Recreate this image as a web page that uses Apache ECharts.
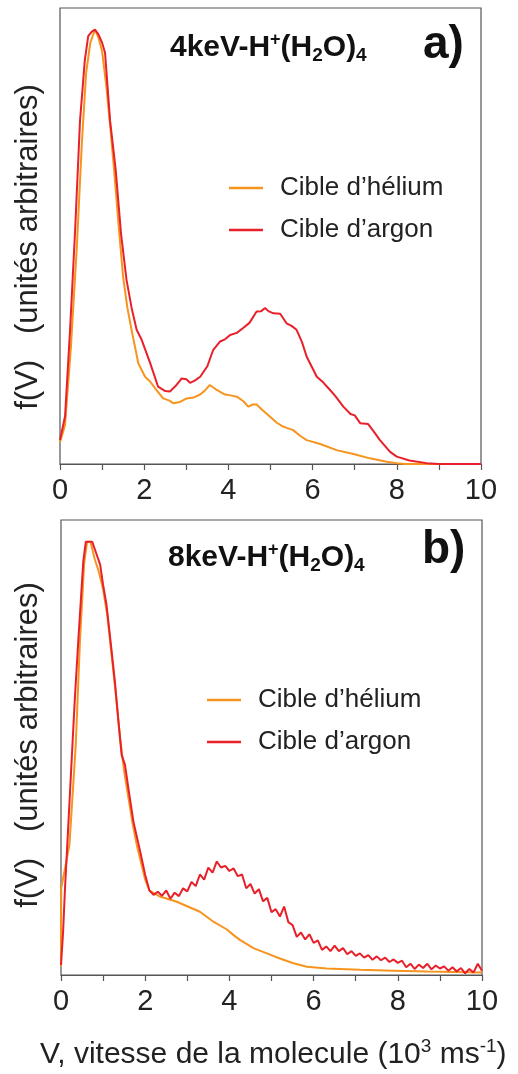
<!DOCTYPE html>
<html>
<head>
<meta charset="utf-8">
<script src="https://cdn.jsdelivr.net/npm/echarts@6/dist/echarts.min.js"></script>
<style>
  html, body { margin: 0; padding: 0; background: #fff; }
  #chart { width: 518px; height: 1074px; }
</style>
</head>
<body>
<div id="chart"></div>
<script>
// panneau a) 4 keV : vitesse (10^3 m/s) et f(V) normalisé
const vA_He = [0, 0.12, 0.26, 0.4, 0.52, 0.62, 0.72, 0.83, 0.92, 1.0, 1.1, 1.2, 1.3, 1.4, 1.5, 1.6, 1.7, 1.86, 2.02, 2.14, 2.26, 2.45, 2.6, 2.69, 2.85, 3.01, 3.17, 3.33, 3.45, 3.56, 3.7, 3.92, 4.05, 4.2, 4.35, 4.47, 4.58, 4.67, 4.8, 4.99, 5.15, 5.3, 5.54, 5.7, 5.86, 6.18, 6.57, 6.97, 7.36, 7.76, 8.0, 8.2, 10];
const fA_He = [0.05, 0.09, 0.27, 0.5, 0.74, 0.9, 0.97, 1.0, 0.98, 0.95, 0.87, 0.77, 0.66, 0.54, 0.43, 0.36, 0.309, 0.232, 0.201, 0.19, 0.174, 0.151, 0.146, 0.14, 0.143, 0.151, 0.153, 0.16, 0.17, 0.182, 0.172, 0.16, 0.158, 0.155, 0.145, 0.132, 0.137, 0.137, 0.125, 0.109, 0.095, 0.086, 0.078, 0.065, 0.055, 0.046, 0.032, 0.023, 0.013, 0.005, 0.002, 0, 0];

const vA_Ar = [0, 0.12, 0.24, 0.36, 0.475, 0.59, 0.67, 0.75, 0.83, 0.91, 1.0, 1.07, 1.19, 1.32, 1.45, 1.58, 1.7, 1.82, 1.94, 2.14, 2.33, 2.5, 2.61, 2.75, 2.89, 3.0, 3.09, 3.2, 3.33, 3.5, 3.64, 3.8, 3.92, 4.04, 4.2, 4.35, 4.5, 4.67, 4.78, 4.87, 4.95, 5.07, 5.23, 5.38, 5.5, 5.62, 5.75, 5.86, 6.1, 6.25, 6.41, 6.55, 6.73, 6.9, 7.0, 7.13, 7.32, 7.45, 7.6, 7.84, 8.0, 8.3, 8.71, 9.0, 10];
const fA_Ar = [0.055, 0.11, 0.31, 0.54, 0.79, 0.93, 0.985, 0.995, 1.0, 0.99, 0.97, 0.947, 0.79, 0.68, 0.53, 0.424, 0.36, 0.309, 0.286, 0.233, 0.178, 0.168, 0.167, 0.18, 0.197, 0.195, 0.187, 0.192, 0.201, 0.225, 0.263, 0.282, 0.287, 0.297, 0.302, 0.313, 0.325, 0.351, 0.352, 0.359, 0.352, 0.347, 0.346, 0.324, 0.318, 0.309, 0.28, 0.247, 0.201, 0.188, 0.171, 0.155, 0.132, 0.115, 0.112, 0.094, 0.092, 0.075, 0.055, 0.028, 0.017, 0.008, 0.002, 0, 0];

// panneau b) 8 keV
const vB_He = [0, 0.005, 0.2, 0.35, 0.45, 0.55, 0.62, 0.7, 0.8, 0.9, 1.0, 1.1, 1.2, 1.3, 1.4, 1.5, 1.6, 1.7, 1.8, 1.9, 2.0, 2.1, 2.35, 2.75, 3.3, 3.62, 3.94, 4.1, 4.25, 4.57, 4.89, 5.2, 5.52, 5.84, 6.31, 7.1, 7.9, 8.7, 10];
const fB_He = [0.02, 0.2, 0.3, 0.53, 0.77, 0.95, 1.0, 1.0, 0.96, 0.93, 0.89, 0.83, 0.74, 0.65, 0.55, 0.47, 0.41, 0.35, 0.3, 0.26, 0.22, 0.195, 0.181, 0.169, 0.146, 0.123, 0.105, 0.092, 0.081, 0.062, 0.05, 0.038, 0.027, 0.019, 0.015, 0.012, 0.01, 0.008, 0.006];

const vB_Ar = [0, 0.05, 0.095, 0.17, 0.25, 0.33, 0.41, 0.53, 0.59, 0.74, 0.83, 0.93, 1.0, 1.08, 1.12, 1.2, 1.28, 1.36, 1.44, 1.52, 1.6, 1.72, 1.88, 2.0,
  2.1, 2.2, 2.3, 2.4, 2.5, 2.6, 2.7, 2.8, 2.9, 3.0, 3.1, 3.2, 3.3, 3.4, 3.5, 3.6, 3.7, 3.8, 3.9, 4.0,
  4.1, 4.2, 4.3, 4.4, 4.5, 4.6, 4.7, 4.8, 4.9, 5.0, 5.1, 5.2, 5.3, 5.4, 5.5, 5.6, 5.7, 5.8, 5.9, 6.0,
  6.1, 6.2, 6.3, 6.4, 6.5, 6.6, 6.7, 6.8, 6.9, 7.0, 7.1, 7.2, 7.3, 7.4, 7.5, 7.6, 7.7, 7.8, 7.9, 8.0,
  8.1, 8.2, 8.3, 8.4, 8.5, 8.6, 8.7, 8.8, 8.9, 9.0, 9.1, 9.2, 9.3, 9.4, 9.5, 9.6, 9.7, 9.8, 9.9, 10.0];
const fB_Ar = [0.023, 0.1, 0.2, 0.339, 0.49, 0.64, 0.77, 0.955, 1.0, 1.0, 0.975, 0.947, 0.9, 0.855, 0.82, 0.75, 0.677, 0.59, 0.508, 0.485, 0.431, 0.354, 0.285, 0.231,
  0.195, 0.185, 0.192, 0.183, 0.195, 0.176, 0.19, 0.182, 0.2, 0.193, 0.215, 0.205, 0.232, 0.22, 0.248, 0.236, 0.262, 0.248, 0.252, 0.24,
  0.246, 0.228, 0.232, 0.2, 0.21, 0.188, 0.198, 0.17, 0.178, 0.145, 0.152, 0.135, 0.158, 0.122, 0.115, 0.088, 0.098, 0.082, 0.094, 0.074,
  0.08, 0.058, 0.066, 0.055, 0.068, 0.055, 0.062, 0.048, 0.055, 0.044, 0.05, 0.04, 0.046, 0.035, 0.043, 0.034, 0.04, 0.03, 0.036, 0.028,
  0.033, 0.018, 0.026, 0.014, 0.024, 0.016, 0.026, 0.013, 0.022, 0.015, 0.02, 0.01, 0.018, 0.008, 0.016, 0.004, 0.014, 0.006, 0.026, 0.01];

const seriesNames = ['Cible d’hélium', 'Cible d’argon'];
const xTicks = [0, 2, 4, 6, 8, 10];

const FONT = '"Liberation Sans", Arial, sans-serif';
const ORANGE = '#f7941e';
const RED = '#e8202a';

function pairs(xs, ys) {
  return xs.map((x, i) => [x, ys[i]]);
}

function xAxisFor(gridIndex, margin) {
  return {
    type: 'value', gridIndex: gridIndex, min: 0, max: 10, interval: 1,
    axisLine: { show: true, lineStyle: { color: '#555', width: 1.2 } },
    axisTick: { show: true, length: 6, lineStyle: { color: '#555', width: 1.2 } },
    axisLabel: {
      margin: margin, fontSize: 29, color: '#222', fontFamily: FONT,
      formatter: v => (xTicks.indexOf(v) >= 0 ? String(v) : '')
    },
    splitLine: { show: false }
  };
}

function yAxisFor(gridIndex) {
  return {
    type: 'value', gridIndex: gridIndex, min: 0, max: 1.05,
    axisLine: { show: false }, axisTick: { show: false },
    axisLabel: { show: false }, splitLine: { show: false }
  };
}

function line(name, idx, data, color) {
  return {
    name: name, type: 'line', xAxisIndex: idx, yAxisIndex: idx,
    data: data, symbol: 'none', smooth: false,
    lineStyle: { color: color, width: 2 }, itemStyle: { color: color }
  };
}

function legendFor(left, top) {
  return {
    orient: 'vertical', left: left, top: top, padding: 0,
    icon: 'rect', itemWidth: 34, itemHeight: 2.5, itemGap: 12,
    data: seriesNames,
    textStyle: { fontSize: 26, color: '#222', fontFamily: FONT, lineHeight: 30, padding: [0, 0, 0, 12] }
  };
}

function titleText(left, top, label) {
  return {
    type: 'text', left: left, top: top,
    style: {
      text: '{b|' + label + '-H}{sup|+}{b|(H}{sub|2}{b|O)}{sub|4}',
      rich: {
        b: { fontSize: 30, fontWeight: 'bold', fontFamily: FONT, fill: '#111', lineHeight: 34 },
        sup: { fontSize: 18, fontWeight: 'bold', fontFamily: FONT, fill: '#111', verticalAlign: 'top', lineHeight: 18 },
        sub: { fontSize: 19, fontWeight: 'bold', fontFamily: FONT, fill: '#111', verticalAlign: 'bottom', lineHeight: 19 }
      }
    }
  };
}

function panelLetter(left, top, letter) {
  return {
    type: 'text', left: left, top: top,
    style: { text: letter, fontSize: 46, fontWeight: 'bold', fontFamily: FONT, fill: '#111' }
  };
}

function yLabel(cx, cy) {
  return {
    type: 'text', x: cx, y: cy, rotation: Math.PI / 2,
    style: {
      text: 'f(V)   (unités arbitraires)', fontSize: 31, fontFamily: FONT, fill: '#222',
      align: 'center', verticalAlign: 'middle'
    }
  };
}

const chart = echarts.init(document.getElementById('chart'));
chart.setOption({
  animation: false,
  backgroundColor: '#fff',
  grid: [
    { left: 60, top: 8, width: 421, height: 456, show: true, borderColor: '#555', borderWidth: 1.2, backgroundColor: 'transparent' },
    { left: 61, top: 520, width: 421, height: 455, show: true, borderColor: '#555', borderWidth: 1.2, backgroundColor: 'transparent' }
  ],
  xAxis: [xAxisFor(0, 12), xAxisFor(1, 12)],
  yAxis: [yAxisFor(0), yAxisFor(1)],
  legend: [legendFor(229, 173), legendFor(207, 685)],
  series: [
    line(seriesNames[0], 0, pairs(vA_He, fA_He), ORANGE),
    line(seriesNames[1], 0, pairs(vA_Ar, fA_Ar), RED),
    line(seriesNames[0], 1, pairs(vB_He, fB_He), ORANGE),
    line(seriesNames[1], 1, pairs(vB_Ar, fB_Ar), RED)
  ],
  graphic: [
    titleText(170, 31, '4keV'),
    titleText(168, 541, '8keV'),
    panelLetter(423, 22, 'a)'),
    panelLetter(422, 527, 'b)'),
    yLabel(28, 247),
    yLabel(28, 745),
    {
      type: 'text', left: 40, top: 1037,
      style: {
        text: '{t|V, vitesse de la molecule (10}{s|3}{t| ms}{s|-1}{t|)}',
        rich: {
          t: { fontSize: 30, fontFamily: FONT, fill: '#222', lineHeight: 36 },
          s: { fontSize: 19, fontFamily: FONT, fill: '#222', verticalAlign: 'top', lineHeight: 19 }
        }
      }
    }
  ]
});
</script>
</body>
</html>
